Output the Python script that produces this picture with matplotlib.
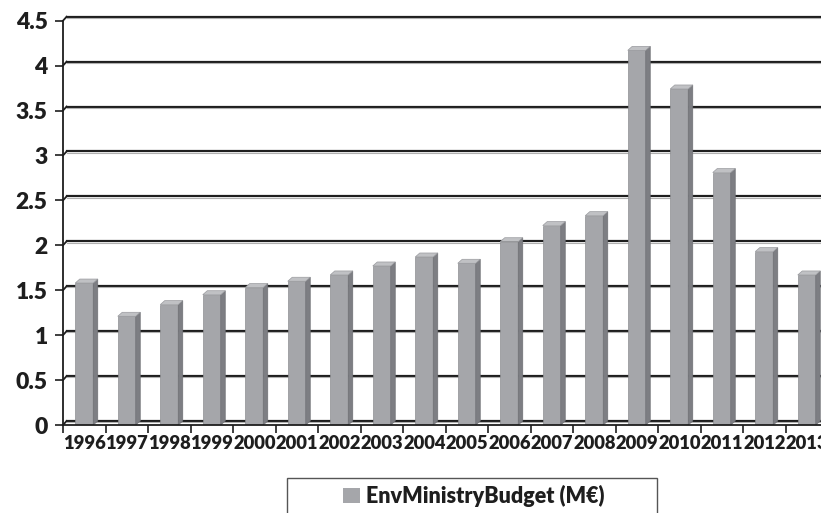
import matplotlib
matplotlib.use("Agg")
import matplotlib.pyplot as plt
from matplotlib.patches import Polygon, Rectangle
import numpy as np

plt.rcParams['font.family'] = ['Lato', 'DejaVu Sans']
plt.rcParams['font.weight'] = 'bold'

years = ["1996", "1997", "1998", "1999", "2000", "2001", "2002", "2003", "2004",
         "2005", "2006", "2007", "2008", "2009", "2010", "2011", "2012", "2013"]
budget = [1.58, 1.21, 1.34, 1.45, 1.53, 1.60, 1.67, 1.77, 1.87,
          1.80, 2.04, 2.22, 2.33, 4.17, 3.74, 2.81, 1.93, 1.67]
series_name = "EnvMinistryBudget (M€)"
yticks = [0, 0.5, 1, 1.5, 2, 2.5, 3, 3.5, 4, 4.5]
ytick_labels = ["0", "0.5", "1", "1.5", "2", "2.5", "3", "3.5", "4", "4.5"]

W, H = 821, 513
fig = plt.figure(figsize=(W / 100, H / 100), dpi=100)
ax_left, ax_bottom_px, ax_top_px = 63, 425, 20.7
cat_px = 42.5
ax = fig.add_axes([ax_left / W, (H - ax_bottom_px) / H,
                   len(years) * cat_px / W, (ax_bottom_px - ax_top_px) / H])
ax.set_xlim(-0.5, len(years) - 0.5)
ax.set_ylim(0, 4.5)

# depth of the 3D effect in data units (px converted through the scales)
px_x = 1.0 / cat_px
px_y = 4.5 / (ax_bottom_px - ax_top_px)
ddx, ddy = 4.5 * px_x, 4.0 * px_y

front = "#a5a6aa"
side = "#7d7e83"
top = "#c0c1c4"
ink = "#1e1e1e"

# back-wall gridlines (offset for depth)
for yv in yticks:
    ax.plot([-0.5, -0.5 + ddx * 0.8], [yv, yv + ddy], color=ink, lw=1.3,
            clip_on=False, zorder=1)
    ax.plot([-0.5 + ddx * 0.8, len(years) + 1], [yv + ddy, yv + ddy],
            color=ink, lw=1.6, clip_on=False, zorder=1)
    ax.plot([-0.5 + ddx * 0.8, len(years) + 1], [yv + ddy - 1.2 * px_y] * 2,
            color="#b0b0b0", lw=0.8, clip_on=False, zorder=1)

x = np.arange(len(years))
bw = 18 * px_x
bars = ax.bar(x, budget, width=bw, color=front, edgecolor="#8e8f93",
              linewidth=0.5, zorder=3, label=series_name)
for xi, h in zip(x, budget):
    xl, xr = xi - bw / 2, xi + bw / 2
    ax.add_patch(Polygon([(xr, 0), (xr + ddx, ddy), (xr + ddx, h + ddy), (xr, h)],
                         closed=True, facecolor=side, edgecolor="#6f7075",
                         linewidth=0.5, zorder=3))
    ax.add_patch(Polygon([(xl, h), (xr, h), (xr + ddx, h + ddy), (xl + ddx, h + ddy)],
                         closed=True, facecolor=top, edgecolor="#9a9b9f",
                         linewidth=0.5, zorder=3))

for s in ["top", "right"]:
    ax.spines[s].set_visible(False)
for s in ["left", "bottom"]:
    ax.spines[s].set_color(ink)
    ax.spines[s].set_linewidth(1.3)
    ax.spines[s].set_zorder(4)

ax.set_yticks(yticks)
ax.set_yticklabels(ytick_labels, fontsize=16.5, fontweight="heavy", color=ink)
ax.tick_params(axis="y", length=6, width=1.2, color=ink, pad=5)

ax.set_xticks(x)
ax.set_xticklabels(years, fontsize=13.2, fontweight="heavy", color=ink)
ax.set_xticks(np.arange(len(years) + 1) - 0.5, minor=True)
ax.tick_params(axis="x", which="major", length=0, pad=7)
ax.tick_params(axis="x", which="minor", length=6, width=1.2, color=ink)

# legend
fig.patches.append(Rectangle((287 / W, -0.02), (657 - 287) / W, (513 - 478) / H + 0.02,
                             transform=fig.transFigure, facecolor="white",
                             edgecolor="#555555", linewidth=1.0))
handle = Rectangle((0, 0), 1, 1, facecolor=front, edgecolor="none")
leg = fig.legend([handle], [series_name], loc="center", frameon=False,
                 bbox_to_anchor=(474 / W, 1 - 496 / H),
                 handlelength=0.75, handleheight=0.75, handletextpad=0.3,
                 prop={"weight": "heavy", "size": 15.5})
for t in leg.get_texts():
    t.set_color(ink)

fig.savefig("out.png", dpi=100)
